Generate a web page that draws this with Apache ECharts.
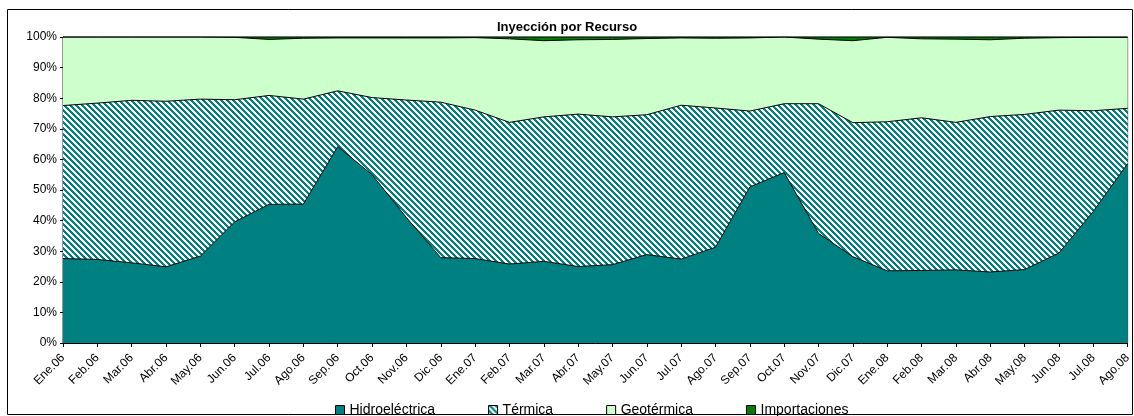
<!DOCTYPE html>
<html>
<head>
<meta charset="utf-8">
<script src="https://cdn.jsdelivr.net/npm/echarts@6/dist/echarts.min.js"></script>
<style>
  html, body { margin: 0; padding: 0; background: #fff; }
  #chart { width: 1134px; height: 416px; }
</style>
</head>
<body>
<div id="chart"></div>
<script>
const meses = ['Ene.06','Feb.06','Mar.06','Abr.06','May.06','Jun.06','Jul.06','Ago.06','Sep.06','Oct.06','Nov.06','Dic.06',
  'Ene.07','Feb.07','Mar.07','Abr.07','May.07','Jun.07','Jul.07','Ago.07','Sep.07','Oct.07','Nov.07','Dic.07',
  'Ene.08','Feb.08','Mar.08','Abr.08','May.08','Jun.08','Jul.08','Ago.08'];

// porcentajes por recurso (%)
const hidroelectrica = [27.6,27.3,26.2,24.9,28.4,39.6,45.3,45.4,64.2,55.0,41.0,27.9,
  27.6,25.8,26.7,25.0,25.6,28.9,27.4,31.3,51.0,55.7,35.8,28.2,
  23.6,23.7,23.9,23.2,24.0,29.4,43.0,58.6];
const termica = [50.0,51.1,53.1,54.1,51.3,39.9,35.6,34.3,18.2,25.2,38.4,50.8,
  48.5,46.3,47.2,49.8,48.3,45.7,50.3,45.5,24.8,22.5,42.4,43.8,
  48.7,49.9,48.2,50.8,50.7,46.7,32.9,18.1];
const geotermica = [22.4,21.6,20.7,21.0,20.3,20.4,18.3,19.9,17.3,19.5,20.3,21.0,
  23.7,27.3,24.9,24.3,25.3,24.9,22.0,22.8,23.9,21.8,21.1,26.8,
  27.6,25.8,27.2,25.1,24.9,23.7,24.0,23.2];
const importaciones = [0,0,0,0,0,0.1,0.8,0.4,0.3,0.3,0.3,0.3,
  0.2,0.6,1.2,0.9,0.8,0.5,0.3,0.4,0.3,0,0.7,1.2,
  0.1,0.6,0.7,0.9,0.4,0.2,0.1,0.1];

const yTicks = [0,10,20,30,40,50,60,70,80,90,100];

// trama diagonal descendente (teal / blanco)
function hatch() {
  const n = 6;
  const c = document.createElement('canvas');
  c.width = n; c.height = n;
  const ctx = c.getContext('2d');
  ctx.fillStyle = '#ffffff';
  ctx.fillRect(0, 0, n, n);
  ctx.fillStyle = '#008080';
  for (let y = 0; y < n; y++) {
    for (let x = 0; x < n; x++) {
      if ((((x - y) % n) + n) % n < 3) ctx.fillRect(x, y, 1, 1);
    }
  }
  return { image: c, repeat: 'repeat' };
}
const rayas = hatch();

const serie = (name, data, color) => ({
  name: name,
  type: 'line',
  stack: 'total',
  data: data,
  showSymbol: false,
  symbol: 'none',
  lineStyle: { color: '#000', width: 1 },
  itemStyle: { color: color, borderColor: '#000', borderWidth: 1 },
  areaStyle: { color: color, opacity: 1 },
  emphasis: { disabled: true }
});

const chart = echarts.init(document.getElementById('chart'), null, { renderer: 'canvas' });
chart.setOption({
  animation: false,
  backgroundColor: '#fff',
  textStyle: { fontFamily: 'Liberation Sans, Arial, sans-serif', color: '#000' },
  title: {
    text: 'Inyección por Recurso',
    left: 'center',
    top: 16,
    textStyle: { fontSize: 13, fontWeight: 'bold', color: '#000', fontFamily: 'Liberation Sans, Arial, sans-serif' }
  },
  legend: {
    left: 330,
    top: 398,
    icon: 'rect',
    itemWidth: 9,
    itemHeight: 9,
    itemGap: 53,
    itemStyle: { borderColor: '#000', borderWidth: 1 },
    textStyle: { fontSize: 14, color: '#000', fontFamily: 'Liberation Sans, Arial, sans-serif' },
    data: ['Hidroeléctrica', 'Térmica', 'Geotérmica', 'Importaciones']
  },
  graphic: [{
    type: 'rect',
    shape: { x: 7.5, y: 9.5, width: 1125, height: 405 },
    style: { fill: 'none', stroke: '#000', lineWidth: 1 },
    silent: true,
    z: -1
  }],
  grid: {
    left: 63, right: 5, top: 37, bottom: 73,
    show: true, borderColor: '#333', borderWidth: 1, backgroundColor: '#fff'
  },
  xAxis: {
    type: 'category',
    data: meses,
    boundaryGap: false,
    axisLine: { lineStyle: { color: '#000', width: 1 } },
    axisTick: { show: true, length: 4, lineStyle: { color: '#000' } },
    axisLabel: { interval: 0, rotate: 45, fontSize: 12, color: '#000', margin: 13 },
    splitLine: { show: false }
  },
  yAxis: {
    type: 'value',
    min: yTicks[0],
    max: yTicks[yTicks.length - 1],
    interval: 10,
    axisLine: { show: true, lineStyle: { color: '#000', width: 1 } },
    axisTick: { show: true, length: 3, lineStyle: { color: '#000' } },
    axisLabel: { formatter: '{value}%', fontSize: 12, color: '#000', margin: 6 },
    splitLine: { show: false }
  },
  series: [
    serie('Hidroeléctrica', hidroelectrica, '#008080'),
    serie('Térmica', termica, rayas),
    serie('Geotérmica', geotermica, '#ccffcc'),
    serie('Importaciones', importaciones, '#008000')
  ]
});
</script>
</body>
</html>
